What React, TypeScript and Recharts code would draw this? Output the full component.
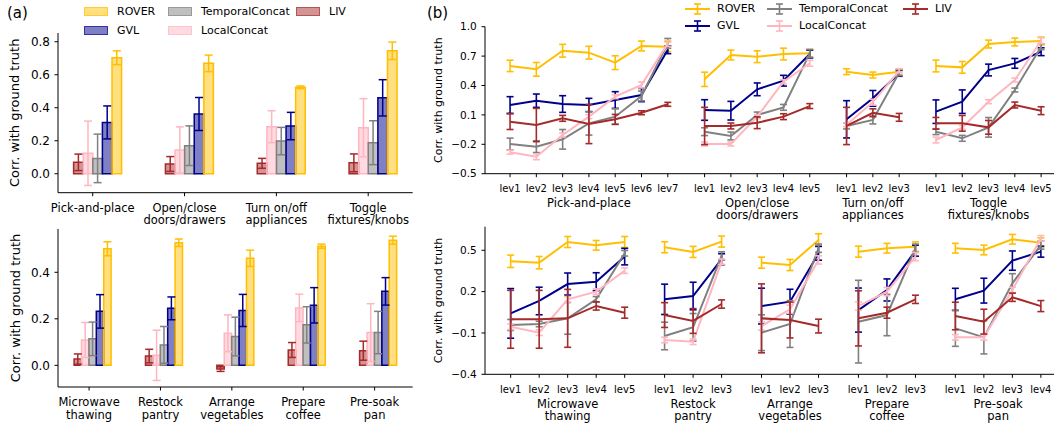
import React from 'react';
import { BarChart, Bar, LineChart, Line, XAxis, YAxis, ErrorBar, Label } from 'recharts';

const FONT = '"DejaVu Sans", sans-serif';

const METHODS = [
  { key: 'rover', name: 'ROVER', color: '#ffbf00' },
  { key: 'gvl', name: 'GVL', color: '#00008b' },
  { key: 'temporal', name: 'TemporalConcat', color: '#808080' },
  { key: 'local', name: 'LocalConcat', color: '#ffb6c1' },
  { key: 'liv', name: 'LIV', color: '#a52a2a' },
];
// left-to-right order of the bars inside a group
const BAR_ORDER = ['liv', 'local', 'temporal', 'gvl', 'rover'];

// ---- (a) top: bar means / std ----
const tasksA1 = ['Pick-and-place', 'Open/close\ndoors/drawers', 'Turn on/off\nappliances', 'Toggle\nfixtures/knobs'];
const a1Rover = [0.703, 0.669, 0.524, 0.745];
const a1RoverErr = [0.042, 0.05, 0.008, 0.053];
const a1Gvl = [0.311, 0.362, 0.289, 0.46];
const a1GvlErr = [0.1, 0.1, 0.083, 0.11];
const a1Temporal = [0.093, 0.17, 0.198, 0.188];
const a1TemporalErr = [0.147, 0.12, 0.083, 0.133];
const a1Local = [0.124, 0.144, 0.285, 0.279];
const a1LocalErr = [0.195, 0.14, 0.097, 0.176];
const a1Liv = [0.069, 0.059, 0.063, 0.066];
const a1LivErr = [0.05, 0.045, 0.03, 0.054];

// ---- (a) bottom ----
const tasksA2 = ['Microwave\nthawing', 'Restock\npantry', 'Arrange\nvegetables', 'Prepare\ncoffee', 'Pre-soak\npan'];
const a2Rover = [0.501, 0.527, 0.46, 0.512, 0.538];
const a2RoverErr = [0.03, 0.016, 0.035, 0.009, 0.017];
const a2Gvl = [0.232, 0.245, 0.236, 0.258, 0.318];
const a2GvlErr = [0.072, 0.049, 0.069, 0.076, 0.059];
const a2Temporal = [0.114, 0.088, 0.124, 0.174, 0.141];
const a2TemporalErr = [0.072, 0.079, 0.083, 0.078, 0.091];
const a2Local = [0.109, 0.043, 0.138, 0.247, 0.141];
const a2LocalErr = [0.075, 0.108, 0.079, 0.059, 0.124];
const a2Liv = [0.027, 0.04, -0.016, 0.066, 0.063];
const a2LivErr = [0.022, 0.029, 0.01, 0.032, 0.041];

// ---- (b) top: per level ----
const groupsB1 = ['Pick-and-place', 'Open/close\ndoors/drawers', 'Turn on/off\nappliances', 'Toggle\nfixtures/knobs'];
const levelsB1 = [7, 5, 3, 5];
const b1Rover = [0.6, 0.565, 0.755, 0.735, 0.633, 0.803, 0.796, 0.463, 0.711, 0.694, 0.721, 0.728, 0.541, 0.507, 0.541, 0.599, 0.585, 0.823, 0.844, 0.854];
const b1RoverErr = [0.058, 0.07, 0.065, 0.065, 0.07, 0.05, 0.05, 0.073, 0.05, 0.06, 0.06, 0.04, 0.03, 0.03, 0.03, 0.06, 0.06, 0.04, 0.04, 0.04];
const b1Gvl = [0.201, 0.245, 0.211, 0.201, 0.252, 0.303, 0.765, 0.15, 0.143, 0.361, 0.449, 0.721, 0.055, 0.269, 0.524, 0.133, 0.235, 0.558, 0.626, 0.745];
const b1GvlErr = [0.085, 0.068, 0.085, 0.068, 0.085, 0.068, 0.04, 0.105, 0.095, 0.065, 0.055, 0.04, 0.19, 0.08, 0.03, 0.12, 0.12, 0.06, 0.05, 0.04];
const b1Temporal = [-0.197, -0.224, -0.149, 0.014, 0.082, 0.293, 0.83, -0.071, -0.115, 0.099, 0.177, 0.728, -0.013, 0.048, 0.531, -0.071, -0.139, -0.027, 0.354, 0.796];
const b1TemporalErr = [0.06, 0.06, 0.1, 0.12, 0.08, 0.05, 0.05, 0.04, 0.04, 0.03, 0.03, 0.04, 0.03, 0.04, 0.03, 0.03, 0.03, 0.1, 0.02, 0.03];
const b1Local = [-0.28, -0.327, -0.105, 0.082, 0.286, 0.405, 0.83, -0.197, -0.197, 0.082, 0.439, 0.627, 0.0, 0.23, 0.55, -0.156, -0.027, 0.235, 0.456, 0.857];
const b1LocalErr = [0.02, 0.03, 0.02, 0.02, 0.02, 0.03, 0.03, 0.02, 0.02, 0.02, 0.02, 0.03, 0.02, 0.03, 0.02, 0.03, 0.02, 0.02, 0.02, 0.03];
const b1Liv = [0.031, -0.003, 0.065, 0.007, 0.055, 0.122, 0.208, -0.013, -0.013, 0.02, 0.082, 0.19, -0.013, 0.122, 0.075, 0.014, 0.014, -0.027, 0.201, 0.143];
const b1LivErr = [0.08, 0.17, 0.03, 0.2, 0.05, 0.02, 0.02, 0.19, 0.03, 0.06, 0.03, 0.025, 0.19, 0.04, 0.04, 0.06, 0.08, 0.07, 0.03, 0.04];

// ---- (b) bottom ----
const groupsB2 = ['Microwave\nthawing', 'Restock\npantry', 'Arrange\nvegetables', 'Prepare\ncoffee', 'Pre-soak\npan'];
const levelsB2 = [5, 3, 3, 3, 4];
const b2Rover = [0.42, 0.41, 0.56, 0.536, 0.56, 0.522, 0.488, 0.563, 0.41, 0.393, 0.575, 0.49, 0.515, 0.526, 0.515, 0.502, 0.58, 0.555];
const b2RoverErr = [0.045, 0.045, 0.04, 0.035, 0.04, 0.04, 0.04, 0.04, 0.04, 0.04, 0.045, 0.04, 0.035, 0.035, 0.035, 0.035, 0.035, 0.035];
const b2Gvl = [0.042, 0.132, 0.255, 0.272, 0.454, 0.144, 0.168, 0.435, 0.095, 0.127, 0.478, 0.066, 0.212, 0.497, 0.144, 0.207, 0.425, 0.49];
const b2GvlErr = [0.18, 0.1, 0.08, 0.065, 0.06, 0.11, 0.1, 0.04, 0.13, 0.09, 0.05, 0.16, 0.08, 0.04, 0.08, 0.09, 0.07, 0.04];
const b2Temporal = [-0.042, -0.035, 0.006, 0.144, 0.478, -0.122, -0.059, 0.459, -0.098, -0.035, 0.515, -0.018, 0.03, 0.515, -0.067, -0.132, 0.26, 0.538];
const b2TemporalErr = [0.04, 0.02, 0.115, 0.02, 0.02, 0.1, 0.1, 0.03, 0.13, 0.17, 0.03, 0.3, 0.15, 0.03, 0.13, 0.12, 0.07, 0.03];
const b2Local = [-0.055, -0.098, 0.144, 0.2, 0.352, -0.151, -0.164, 0.417, -0.05, 0.072, 0.43, 0.095, 0.2, 0.454, -0.132, -0.132, 0.212, 0.587];
const b2LocalErr = [0.02, 0.02, 0.02, 0.02, 0.02, 0.02, 0.02, 0.02, 0.03, 0.03, 0.03, 0.03, 0.03, 0.03, 0.02, 0.02, 0.02, 0.02];
const b2Liv = [-0.001, -0.001, 0.006, 0.096, 0.047, 0.03, -0.013, 0.11, 0.006, -0.006, -0.05, 0.006, 0.047, 0.144, 0.023, -0.018, 0.159, 0.095];
const b2LivErr = [0.21, 0.21, 0.21, 0.03, 0.04, 0.09, 0.09, 0.03, 0.25, 0.13, 0.05, 0.2, 0.04, 0.03, 0.1, 0.09, 0.03, 0.04];

const GAP = 1.4; // spacing between level groups in (b), in level units

const byKey: Record<string, { key: string; name: string; color: string }> = {};
METHODS.forEach((m) => (byKey[m.key] = m));

const fmt = (v: number) => v.toFixed(1).replace('-', '\u2212');

const rgba = (hex: string, a: number) => {
  const n = parseInt(hex.slice(1), 16);
  return `rgba(${(n >> 16) & 255}, ${(n >> 8) & 255}, ${n & 255}, ${a})`;
};

const axisLine = { stroke: '#000', strokeWidth: 1 };

const MultiLine = ({ x, y, lines, fontSize, first, step }: any) => (
  <>
    {lines.map((l: string, i: number) => (
      <text key={i} x={x} y={y + first + i * step} textAnchor="middle" fontSize={fontSize} fontFamily={FONT} fill="#000">
        {l}
      </text>
    ))}
  </>
);

const TaskTick = ({ x, y, payload, shift }: any) => (
  <g>
    <line x1={x + shift} x2={x + shift} y1={y} y2={y + 3.5} stroke="#000" strokeWidth={1} />
    <MultiLine x={x + shift} y={y} lines={String(payload.value).split('\n')} fontSize={11.5} first={19.3} step={12.4} />
  </g>
);

const LevTick = ({ x, y, index, labels }: any) => (
  <g>
    <line x1={x} x2={x} y1={y} y2={y + 3.5} stroke="#000" strokeWidth={1} />
    <text x={x} y={y + 18.3} textAnchor="middle" fontSize={10} fontFamily={FONT} fill="#000">
      {labels[index]}
    </text>
  </g>
);

const GroupTick = ({ x, y, index, labels }: any) => (
  <MultiLine x={x} y={y} lines={String(labels[index]).split('\n')} fontSize={11.5} first={13.5} step={12.2} />
);

const yLabel = (dx: number, fontSize: number) => (props: any) => {
  const vb = props.viewBox;
  const cx = vb.x + dx;
  const cy = vb.y + vb.height / 2;
  return (
    <text x={cx} y={cy} transform={`rotate(-90 ${cx} ${cy})`} textAnchor="middle" dominantBaseline="central" fontSize={fontSize} fontFamily={FONT} fill="#000">
      Corr. with ground truth
    </text>
  );
};

function BarPanel(props: any) {
  const { left, top, width, height, margin, tasks, vals, errs, domain, ticks, barSize, padding, shift, xHeight } = props;
  const rows = tasks.map((t: string, i: number) => {
    const r: any = { task: t };
    BAR_ORDER.forEach((k) => {
      r[k] = vals[k][i];
      r[k + 'Err'] = errs[k][i];
    });
    return r;
  });
  return (
    <div style={{ position: 'absolute', left, top }}>
      <BarChart width={width} height={height} data={rows} margin={margin} barSize={barSize} barGap={0}>
        <XAxis
          dataKey="task"
          type="category"
          padding={padding}
          axisLine={axisLine}
          tickLine={false}
          tickSize={0}
          tickMargin={0}
          height={xHeight}
          interval={0}
          tick={(p: any) => <TaskTick {...p} shift={shift} />}
        />
        <YAxis
          type="number"
          domain={domain}
          ticks={ticks}
          allowDataOverflow
          width={58}
          axisLine={axisLine}
          tickLine={axisLine}
          tickSize={3.5}
          tickMargin={4.5}
          tickFormatter={fmt}
          tick={{ fill: '#000', fontSize: 12, fontFamily: FONT }}
        >
          <Label content={yLabel(15, 13)} />
        </YAxis>
        {BAR_ORDER.map((k) => (
          <Bar key={k} dataKey={k} fill={byKey[k].color} fillOpacity={0.5} stroke={byKey[k].color} strokeWidth={1.5} isAnimationActive={false}>
            <ErrorBar dataKey={k + 'Err'} width={4} strokeWidth={1.5} stroke={byKey[k].color} direction="y" />
          </Bar>
        ))}
      </BarChart>
    </div>
  );
}

function LinePanel(props: any) {
  const { left, top, width, height, margin, groups, levels, vals, errs, xDomain, yDomain, yTicks } = props;
  const rows: any[] = [];
  const levTicks: number[] = [];
  const levLabels: string[] = [];
  const grpTicks: number[] = [];
  let start = 0;
  let k = 0;
  levels.forEach((n: number, gi: number) => {
    if (gi > 0) rows.push({ x: start - GAP / 2 }); // breaks the lines between tasks
    for (let i = 0; i < n; i++) {
      const r: any = { x: start + i };
      METHODS.forEach((m) => {
        r[m.key] = vals[m.key][k];
        r[m.key + 'Err'] = errs[m.key][k];
      });
      rows.push(r);
      levTicks.push(start + i);
      levLabels.push(`lev${i + 1}`);
      k++;
    }
    grpTicks.push(start + (n - 1) / 2);
    start += n - 1 + GAP;
  });

  return (
    <div style={{ position: 'absolute', left, top }}>
      <LineChart width={width} height={height} data={rows} margin={margin}>
        {/* task names sit below the level ticks */}
        <XAxis
          xAxisId="b_grp"
          dataKey="x"
          type="number"
          domain={xDomain}
          allowDataOverflow
          ticks={grpTicks}
          interval={0}
          axisLine={false}
          tickLine={false}
          tickSize={0}
          tickMargin={0}
          height={30}
          tick={(p: any) => <GroupTick {...p} labels={groups} />}
        />
        <XAxis
          xAxisId="a_lev"
          dataKey="x"
          type="number"
          domain={xDomain}
          allowDataOverflow
          ticks={levTicks}
          interval={0}
          axisLine={axisLine}
          tickLine={false}
          tickSize={0}
          tickMargin={0}
          height={20}
          tick={(p: any) => <LevTick {...p} labels={levLabels} />}
        />
        <YAxis
          type="number"
          domain={yDomain}
          ticks={yTicks}
          allowDataOverflow
          width={65}
          axisLine={axisLine}
          tickLine={axisLine}
          tickSize={3.5}
          tickMargin={4.8}
          tickFormatter={fmt}
          tick={{ fill: '#000', fontSize: 10.5, fontFamily: FONT }}
        >
          <Label content={yLabel(18.3, 11)} />
        </YAxis>
        {METHODS.map((m) => (
          <Line
            key={m.key}
            xAxisId="a_lev"
            dataKey={m.key}
            stroke={m.color}
            strokeWidth={2}
            dot={false}
            activeDot={false}
            connectNulls={false}
            isAnimationActive={false}
          >
            <ErrorBar dataKey={m.key + 'Err'} width={3.5} strokeWidth={1.6} stroke={m.color} direction="y" />
          </Line>
        ))}
      </LineChart>
    </div>
  );
}

const PatchLegend = () => (
  <div
    style={{
      position: 'absolute',
      left: 84,
      top: 2,
      display: 'grid',
      gridAutoFlow: 'column',
      gridTemplateRows: 'repeat(2, 19.3px)',
      gridTemplateColumns: '84px 128px auto',
      fontSize: 11,
      fontFamily: FONT,
    }}
  >
    {METHODS.map((m) => (
      <div key={m.key} style={{ display: 'flex', alignItems: 'center' }}>
        <div
          style={{
            width: 24,
            height: 9,
            boxSizing: 'border-box',
            background: rgba(m.color, 0.5),
            border: `1.3px solid ${rgba(m.color, 0.6)}`,
            marginRight: 9,
          }}
        />
        <span>{m.name}</span>
      </div>
    ))}
  </div>
);

const LineLegend = () => (
  <div
    style={{
      position: 'absolute',
      left: 685,
      top: 0,
      display: 'grid',
      gridAutoFlow: 'column',
      gridTemplateRows: 'repeat(2, 17px)',
      gridTemplateColumns: '82px 136px auto',
      fontSize: 11,
      fontFamily: FONT,
    }}
  >
    {METHODS.map((m) => (
      <div key={m.key} style={{ display: 'flex', alignItems: 'center' }}>
        <svg width={25} height={12} style={{ marginRight: 7 }}>
          <line x1={0} x2={25} y1={6} y2={6} stroke={m.color} strokeWidth={2} />
          <line x1={12.5} x2={12.5} y1={1} y2={11} stroke={m.color} strokeWidth={1.6} />
          <line x1={9} x2={16} y1={1} y2={1} stroke={m.color} strokeWidth={1.6} />
          <line x1={9} x2={16} y1={11} y2={11} stroke={m.color} strokeWidth={1.6} />
        </svg>
        <span>{m.name}</span>
      </div>
    ))}
  </div>
);

export default function App() {
  return (
    <div style={{ position: 'absolute', left: 0, top: 0, width: 1056, height: 425, background: '#fff', fontFamily: FONT, overflow: 'hidden' }}>
      <BarPanel
        left={0}
        top={0}
        width={420}
        height={230}
        margin={{ top: 33, right: 7.3, bottom: 5.3, left: 0 }}
        tasks={tasksA1}
        vals={{ rover: a1Rover, gvl: a1Gvl, temporal: a1Temporal, local: a1Local, liv: a1Liv }}
        errs={{ rover: a1RoverErr, gvl: a1GvlErr, temporal: a1TemporalErr, local: a1LocalErr, liv: a1LivErr }}
        domain={[-0.115, 0.853]}
        ticks={[0, 0.2, 0.4, 0.6, 0.8]}
        barSize={9.6}
        padding={{ left: -6.4, right: -6.2 }}
        shift={-4.8}
        xHeight={32}
      />
      <BarPanel
        left={0}
        top={210}
        width={420}
        height={215}
        margin={{ top: 19, right: 7.3, bottom: 3, left: 0 }}
        tasks={tasksA2}
        vals={{ rover: a2Rover, gvl: a2Gvl, temporal: a2Temporal, local: a2Local, liv: a2Liv }}
        errs={{ rover: a2RoverErr, gvl: a2GvlErr, temporal: a2TemporalErr, local: a2LocalErr, liv: a2LivErr }}
        domain={[-0.093, 0.586]}
        ticks={[0, 0.2, 0.4]}
        barSize={7.4}
        padding={{ left: -0.9, right: -1.3 }}
        shift={-3.7}
        xHeight={35}
      />
      <LinePanel
        left={420}
        top={0}
        width={636}
        height={230}
        margin={{ top: 26.7, right: 2, bottom: 6.3, left: 0 }}
        groups={groupsB1}
        levels={levelsB1}
        vals={{ rover: b1Rover, gvl: b1Gvl, temporal: b1Temporal, local: b1Local, liv: b1Liv }}
        errs={{ rover: b1RoverErr, gvl: b1GvlErr, temporal: b1TemporalErr, local: b1LocalErr, liv: b1LivErr }}
        xDomain={[-0.953, 20.69]}
        yDomain={[-0.5, 1.0]}
        yTicks={[-0.5, -0.2, 0.1, 0.4, 0.7, 1.0]}
      />
      <LinePanel
        left={420}
        top={210}
        width={636}
        height={215}
        margin={{ top: 16.7, right: 2, bottom: 0.7, left: 0 }}
        groups={groupsB2}
        levels={levelsB2}
        vals={{ rover: b2Rover, gvl: b2Gvl, temporal: b2Temporal, local: b2Local, liv: b2Liv }}
        errs={{ rover: b2RoverErr, gvl: b2GvlErr, temporal: b2TemporalErr, local: b2LocalErr, liv: b2LivErr }}
        xDomain={[-0.9, 19.06]}
        yDomain={[-0.4, 0.671]}
        yTicks={[-0.4, -0.1, 0.2, 0.5]}
      />
      <PatchLegend />
      <LineLegend />
      <div style={{ position: 'absolute', left: 7, top: 4, fontSize: 15 }}>(a)</div>
      <div style={{ position: 'absolute', left: 427, top: 4, fontSize: 15 }}>(b)</div>
    </div>
  );
}
